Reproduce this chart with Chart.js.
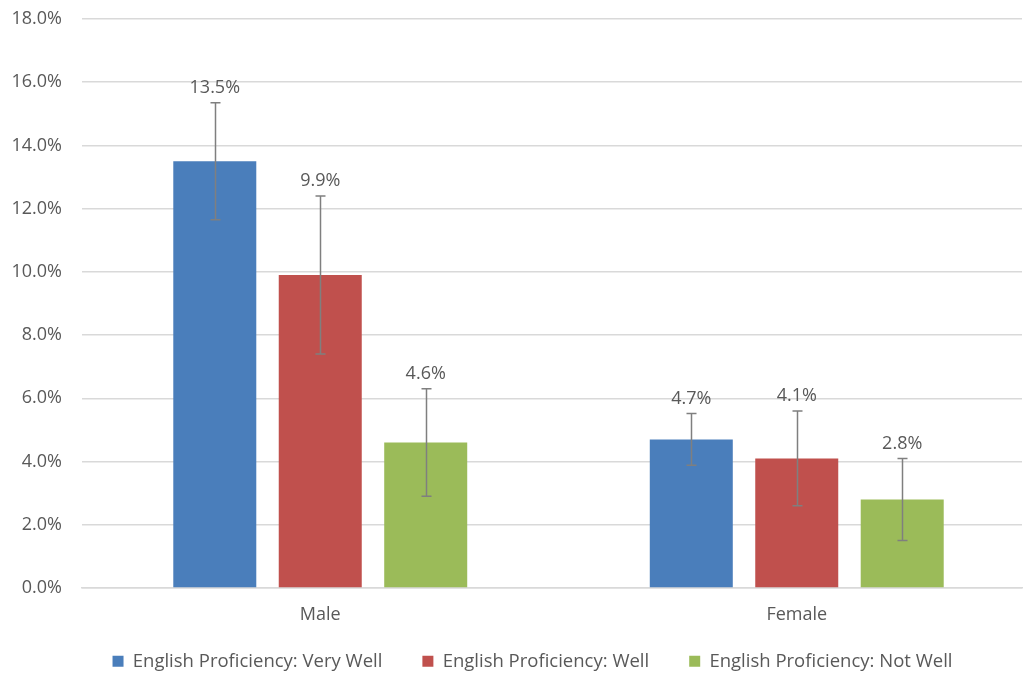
<!DOCTYPE html>
<html>
<head>
<meta charset="utf-8">
<script src="https://cdn.jsdelivr.net/npm/chart.js@4"></script>
<style>
  html, body { margin: 0; padding: 0; background: #fff; }
  #wrap { width: 1023px; height: 673px; }
</style>
</head>
<body>
<div id="wrap"><canvas id="myChart"></canvas></div>
<script>
var categories = ['Male', 'Female'];
var seriesNames = ['English Proficiency: Very Well', 'English Proficiency: Well', 'English Proficiency: Not Well'];
var veryWell = [13.5, 4.7];
var well = [9.9, 4.1];
var notWell = [4.6, 2.8];
// error bar half widths
var veryWellErr = [1.85, 0.82];
var wellErr = [2.5, 1.5];
var notWellErr = [1.7, 1.3];
var yTicks = [0, 2, 4, 6, 8, 10, 12, 14, 16, 18];

var errors = [veryWellErr, wellErr, notWellErr];

// draws the error bars and the value labels above them
var errorBarPlugin = {
    id: 'errorBars',
    afterDatasetsDraw: function(chart) {
        var ctx = chart.ctx;
        var y = chart.scales.y;
        ctx.save();
        chart.data.datasets.forEach(function(ds, i) {
            var meta = chart.getDatasetMeta(i);
            meta.data.forEach(function(bar, j) {
                var v = ds.data[j];
                var e = errors[i][j];
                var yTop = y.getPixelForValue(v + e);
                var yBot = y.getPixelForValue(v - e);
                var x = Math.round(bar.x) + 0.5;
                ctx.strokeStyle = '#7f7f7f';
                ctx.lineWidth = 1.5;
                ctx.beginPath();
                ctx.moveTo(x, yTop);
                ctx.lineTo(x, yBot);
                ctx.moveTo(x - 5, yTop);
                ctx.lineTo(x + 5, yTop);
                ctx.moveTo(x - 5, yBot);
                ctx.lineTo(x + 5, yBot);
                ctx.stroke();

                ctx.fillStyle = '#595959';
                ctx.font = '18px "Open Sans", sans-serif';
                ctx.textAlign = 'center';
                ctx.textBaseline = 'middle';
                ctx.fillText(v.toFixed(1) + '%', bar.x, yTop - 15);
            });
        });
        ctx.restore();
    }
};

// legend: wide gaps between items, but a short box sitting close under the axis labels
// the category axis also runs a little past the right edge, as in the original
var layoutTweakPlugin = {
    id: 'layoutTweak',
    beforeInit: function(chart) {
        var lg = chart.legend;
        var origFit = lg.fit;
        lg.fit = function() {
            origFit.call(this);
            this.height = 47;
        };
    },
    afterLayout: function(chart) {
        var lg = chart.legend;
        lg.top = 612;
        lg.bottom = 673;
        lg.height = 61;
        lg.left = 26;
        lg.right = 1039;

        var xs = chart.scales.x;
        xs.right += 13;
        xs.width += 13;
        xs.configure();
    }
};

var ctx = document.getElementById('myChart').getContext('2d');
Chart.defaults.font.family = '"Open Sans", sans-serif';
Chart.defaults.color = '#595959';

var myChart = new Chart(ctx, {
    type: 'bar',
    data: {
        labels: categories,
        datasets: [{
                label: seriesNames[0],
                data: veryWell,
                backgroundColor: '#4a7ebb'
            }, {
                label: seriesNames[1],
                data: well,
                backgroundColor: '#c0504d'
            }, {
                label: seriesNames[2],
                data: notWell,
                backgroundColor: '#9bbb59'
            }]
    },
    options: {
        responsive: true,
        maintainAspectRatio: false,
        animation: false,
        categoryPercentage: 0.664,
        barPercentage: 0.787,
        layout: { padding: { top: 19, right: 1, left: 10, bottom: 0 } },
        plugins: {
            legend: {
                position: 'bottom',
                labels: {
                    boxWidth: 11,
                    boxHeight: 11,
                    padding: 40,
                    font: { size: 18.5 },
                    color: '#595959'
                }
            },
            tooltip: { enabled: false }
        },
        scales: {
            x: {
                grid: { display: false, drawTicks: false },
                border: { color: '#d9d9d9', width: 1.5 },
                ticks: { font: { size: 18 }, padding: 16, color: '#595959' },
                afterFit: function(axis) { axis.height = 38; }
            },
            y: {
                min: 0,
                max: 18,
                afterBuildTicks: function(axis) {
                    axis.ticks = yTicks.map(function(v) { return { value: v }; });
                },
                afterFit: function(axis) {
                    axis.width = 72;
                    axis.paddingTop = 11;
                    axis.paddingBottom = 11;
                },
                grid: { color: '#d9d9d9', lineWidth: 1.5, drawTicks: false },
                border: { display: false },
                ticks: {
                    font: { size: 18 },
                    padding: 20,
                    color: '#595959',
                    callback: function(v) { return v.toFixed(1) + '%'; }
                }
            }
        }
    },
    plugins: [errorBarPlugin, layoutTweakPlugin]
});
</script>
</body>
</html>
